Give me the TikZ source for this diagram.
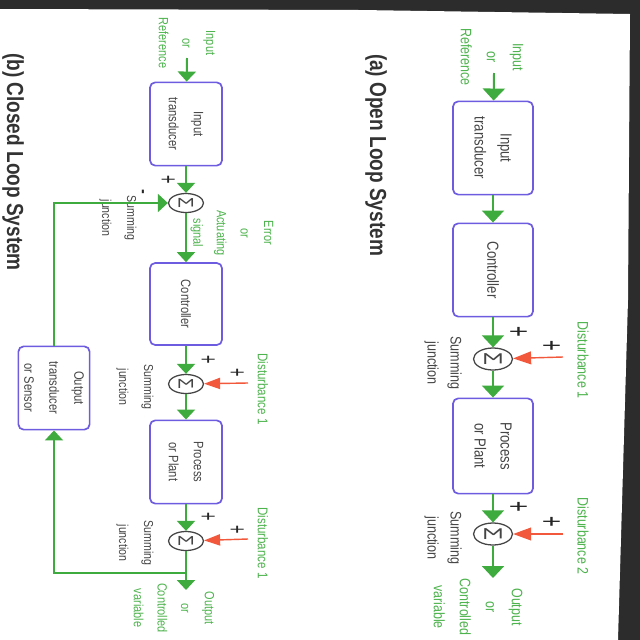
\documentclass[tikz,border=0pt]{standalone}
\usepackage{fontspec}
\setmainfont{Liberation Sans}[FakeStretch=0.82]
\usetikzlibrary{shapes.geometric,arrows.meta}
\definecolor{flowgreen}{HTML}{3DAB3D}
\definecolor{labelgreen}{HTML}{4DB34D}
\definecolor{distred}{HTML}{F2583C}
\definecolor{boxblue}{HTML}{6E5CE0}
\definecolor{inkgray}{HTML}{454545}
\definecolor{scanback}{HTML}{2C2C2C}

\begin{document}
\begin{tikzpicture}[x=0.025cm,y=-0.025cm,
  block/.style={draw=boxblue,line width=1.2pt,rounded corners=0.13cm,rotate=-90,
    align=center,text=inkgray,inner sep=0pt},
  blockA/.style={block,minimum width=2.33cm,minimum height=2cm,font=\fontsize{11.4}{18.5}\selectfont},
  blockB/.style={block,minimum width=2.08cm,minimum height=1.8cm,font=\fontsize{9.7}{17.8}\selectfont},
  sumjn/.style={ellipse,draw=inkgray,line width=0.9pt,rotate=-90,inner sep=0pt,text=inkgray},
  sumA/.style={sumjn,minimum width=0.55cm,minimum height=0.975cm,font=\fontsize{18}{18}\selectfont},
  sumB/.style={sumjn,minimum width=0.475cm,minimum height=0.875cm,font=\fontsize{15}{15}\selectfont},
  lbl/.style={rotate=-90,align=center,text=labelgreen,inner sep=0pt},
  lblA/.style={lbl,font=\fontsize{10.8}{18.5}\selectfont},
  lblB/.style={lbl,font=\fontsize{9.5}{16.8}\selectfont},
  note/.style={rotate=-90,align=center,text=inkgray,inner sep=0pt},
  noteA/.style={note,font=\fontsize{10.9}{16.4}\selectfont},
  noteB/.style={note,font=\fontsize{9.2}{17.8}\selectfont},
  sign/.style={rotate=-90,xscale=0.66,inner sep=0pt,text=black!85},
  signA/.style={sign,font=\fontsize{24}{24}\selectfont},
  signB/.style={sign,font=\fontsize{19}{19}\selectfont},
  heading/.style={rotate=-90,text=black!80,inner sep=0pt,font=\fontsize{16.5}{20}\selectfont\bfseries},
  flow/.style={color=flowgreen,line width=1.4pt,-{Triangle[length=0.3cm,width=0.55cm]}},
  flowB/.style={flow,-{Triangle[length=0.25cm,width=0.45cm]}},
  dist/.style={color=distred,line width=1pt,-{Triangle[length=0.45cm,width=0.32cm]}},
  distB/.style={dist,-{Triangle[length=0.4cm,width=0.28cm]}}]
  \useasboundingbox (0,0) rectangle (640,640);
  \fill[scanback] (0,0) rectangle (640,640);
  \fill[white] (0,9) -- (360,10) -- (630,14) -- (628,300) -- (618,640) -- (0,640) -- cycle;

  % (a) open loop
  \node[heading] (titleA) at (376,155) {(a) Open Loop System};
  \node[lblA] (refA) at (492,57) {Input\\or\\Reference};
  \coordinate (inA) at (494,73);
  \node[blockA] (inTA) at (493,148) {Input\\transducer};
  \node[blockA] (ctrlA) at (493,270) {Controller};
  \node[sumA] (sumA1) at (493,359) {Σ};
  \node[blockA,minimum width=2.38cm] (plantA) at (493,446) {Process\\or Plant};
  \node[sumA] (sumA2) at (493,534) {Σ};
  \coordinate (outA) at (493,578);
  \node[lblA] (ctrlvarA) at (478,607) {Output\\or\\Controlled\\variable};
  \coordinate (dA1) at (563,357);
  \coordinate (dA2) at (563,534);
  \node[lblA] (distA1) at (583,360) {Disturbance 1};
  \node[lblA] (distA2) at (583,536) {Disturbance 2};
  \node[noteA] (noteA1) at (443,363) {Summing\\junction};
  \node[noteA] (noteA2) at (443,538) {Summing\\junction};
  \node[signA] (pA1) at (517,332) {+};
  \node[signA] (pA2) at (550,346) {+};
  \node[signA] (pA3) at (517,507) {+};
  \node[signA] (pA4) at (550,522) {+};
  \path[flow]
    (inA) edge (inTA)
    (inTA) edge (ctrlA)
    (ctrlA) edge (sumA1)
    (sumA1) edge (plantA)
    (plantA) edge (sumA2)
    (sumA2) edge (outA);
  \path[dist]
    (dA1) edge (sumA1)
    (dA2) edge (sumA2);

  % (b) closed loop
  \node[heading] (titleB) at (13,162) {(b) Closed Loop System};
  \node[lblB] (refB) at (187,43) {Input\\or\\Reference};
  \coordinate (inB) at (187,58);
  \node[blockB] (inTB) at (186,124) {Input\\transducer};
  \node[sumB] (sumB1) at (186,203) {Σ};
  \node[lblB] (errB) at (232,233) {Error\\or\\Actuating\\signal};
  \node[blockB,minimum width=2.05cm] (ctrlB) at (186,304) {Controller};
  \node[sumB] (sumB2) at (186,384) {Σ};
  \node[blockB] (plantB) at (186,462) {Process\\or Plant};
  \node[sumB] (sumB3) at (186,541) {Σ};
  \coordinate (jB) at (186,573);
  \coordinate (outB) at (186,590);
  \node[lblB] (ctrlvarB) at (174,608) {Output\\or\\Controlled\\variable};
  \node[blockB,minimum height=1.78cm] (sensB) at (54,388) {Output\\transducer\\or Sensor};
  \coordinate (dB1) at (248,383);
  \coordinate (dB2) at (248,539);
  \node[lblB,font=\fontsize{10}{16}\selectfont] (distB1) at (263,389) {Disturbance 1};
  \node[lblB,font=\fontsize{10}{16}\selectfont] (distB2) at (263,543) {Disturbance 1};
  \node[noteB] (noteB1) at (118,218) {Summing\\junction};
  \node[noteB] (noteB2) at (135,387) {Summing\\junction};
  \node[noteB] (noteB3) at (135,543) {Summing\\junction};
  \node[signB] (pB1) at (167,180) {+};
  \node[signB] (mB1) at (140,192) {-};
  \node[signB] (pB2) at (207,360) {+};
  \node[signB] (pB3) at (236,373) {+};
  \node[signB] (pB4) at (207,517) {+};
  \node[signB] (pB5) at (236,530) {+};
  \path[flowB]
    (inB) edge (inTB)
    (inTB) edge (sumB1)
    (sumB1) edge (ctrlB)
    (ctrlB) edge (sumB2)
    (sumB2) edge (plantB)
    (plantB) edge (sumB3)
    (sumB3) edge (outB);
  \draw[flowB] (jB) -| (sensB);
  \draw[flowB] (sensB) |- (sumB1);
  \path[distB]
    (dB1) edge (sumB2)
    (dB2) edge (sumB3);
\end{tikzpicture}
\end{document}
